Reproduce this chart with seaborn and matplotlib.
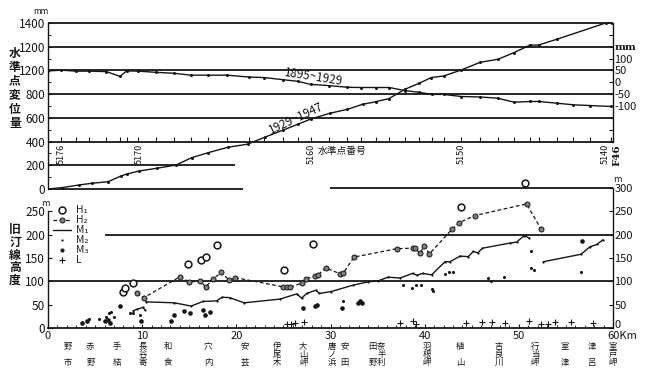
import numpy as np
import pandas as pd
import matplotlib
matplotlib.use("Agg")
import matplotlib.pyplot as plt
import matplotlib.transforms as mtransforms
from matplotlib.lines import Line2D
import seaborn as sns

# ---------------- data: upper panel (benchmark displacement, mm) ----------------
km_1929_1947 = [0.0, 1.45, 3.3, 4.65, 6.4, 7.75, 8.4, 9.7, 11.55, 13.6, 15.25, 17.0, 19.1, 21.2,
                23.0, 25.0, 26.6, 27.9, 29.9, 31.8, 33.4, 34.8, 36.2, 37.9, 39.4, 40.7, 42.0,
                43.9, 45.9, 47.8, 49.5, 51.2, 52.1, 54.0, 59.3, 59.85]
mm_1929_1947 = [0, 11, 34, 48, 62, 110, 127, 152, 175, 202, 264, 306, 352, 378,
                436, 498, 548, 590, 638, 672, 714, 736, 762, 841, 891, 940, 953,
                1004, 1069, 1094, 1151, 1214, 1214, 1262, 1402, 1398]
km_1895_1929 = [0.0, 1.4, 3.0, 4.35, 6.2, 7.65, 8.35, 9.6, 11.45, 13.4, 15.15, 17.0, 19.05,
                21.35, 22.95, 24.95, 26.55, 27.9, 29.85, 31.8, 33.2, 34.8, 36.25, 37.9, 39.4,
                40.75, 42.0, 43.9, 45.9, 47.75, 49.5, 51.2, 52.1, 54.0, 55.8, 57.55, 59.75]
mm_1895_1929 = [48, 51, 47, 47, 45, 25, 48, 47, 42, 38, 30, 30, 30,
                22, 20, 11, 4, -9, -14, -21, -22, -22, -22, -35, -42,
                -51, -51, -60, -62, -67, -84, -81, -81, -88, -95, -98, -102]
bench_labels = ["5176", "5170", "5160", "5150", "5140"]
bench_label_km = [1.4, 9.65, 27.9, 43.9, 59.2]
left_tick_values = [0, 200, 400, 600, 800, 1000, 1200, 1400]
left_tick_labels = ["0", "200", "400", "600", "800", "1200", "1200", "1400"]
right_tick_values = [-250, -200, -150, -100, -50, 0, 50, 100, 150, 200, 250]

# ---------------- data: lower panel (old shoreline height, m) ----------------
h1_km = [7.93, 8.18, 9.06, 14.9, 16.2, 16.75, 17.9, 25.1, 28.15, 43.9, 50.65]
h1_m = [78, 86, 96, 137, 146, 152, 177, 124, 181, 259, 310]

h2_km = [9.42, 10.19, 14.02, 14.94, 16.19, 16.75, 17.52, 18.4, 19.27, 19.89, 24.99, 25.35,
         25.7, 26.94, 27.4, 28.35, 28.72, 29.47, 31.04, 31.33, 32.5, 37.06, 38.73, 38.97,
         39.5, 39.95, 40.51, 42.93, 43.68, 45.34, 50.83, 52.35]
h2_m = [74, 65, 110, 99, 100, 88, 105, 119, 102, 108, 88, 87,
        87, 96, 105, 112, 114, 129, 116, 117, 152, 170, 171, 171,
        160, 176, 159, 212, 226, 241, 266, 212]

m1_seg1_km = [9.06, 9.42, 10.06, 10.3]
m1_seg1_m = [37, 40, 44, 39]
m1_seg2_km = [10.41, 13.4, 15.21, 16.46, 17.91, 18.48, 19.29, 20.83, 24.64, 26.41, 26.94, 27.47,
              28.46, 28.81, 30.05, 32.42, 34.01, 35.07, 36.1, 37.38, 38.71, 39.19, 39.77, 40.74,
              42.16, 42.69, 43.75, 44.63, 45.16, 45.64, 46.14, 49.06, 49.77, 50.55, 51.08]
m1_seg2_m = [56, 54, 47, 57, 58, 66, 65, 54, 62, 73, 64, 74,
             81, 74, 78, 92, 99, 101, 109, 107, 117, 113, 117, 114,
             142, 142, 154, 153, 164, 161, 171, 182, 184, 198, 193]
m1_seg3_km = [52.6, 56.6, 57.56, 58.27, 58.94]
m1_seg3_m = [142, 158, 174, 179, 189]

m2_km = [4.39, 5.44, 6.19, 6.51, 6.72, 7.03, 8.68, 9.06, 9.77, 31.36, 37.73, 38.62, 39.05,
         39.58, 40.75, 40.92, 42.16, 42.61, 43.04, 46.69, 47.01, 48.39, 51.26, 51.26, 51.63, 56.65]
m2_m = [20, 19, 24, 32, 34, 24, 32, 32, 28, 58, 92, 85, 92,
        92, 83, 80, 116, 119, 119, 108, 101, 110, 164, 129, 124, 119]

m3_km = [3.66, 4.17, 6.05, 6.4, 6.58, 7.65, 9.88, 13.06, 13.4, 14.47, 15.08, 16.49, 16.67,
         17.2, 27.05, 28.35, 28.6, 31.2, 32.89, 33.13, 33.38, 56.67]
m3_m = [10, 14, 14, 17, 11, 48, 16, 14, 28, 36, 32, 39, 28,
        35, 42, 48, 49, 43, 53, 58, 53, 186]

l_km = [25.41, 25.8, 26.18, 27.18, 37.38, 38.76, 39.1, 44.36, 46.12, 47.12, 48.56, 51.11,
        52.35, 53.06, 53.84, 55.54, 57.91]
l_m = [8, 8, 10, 12, 10, 15, 9, 10, 12, 12, 10, 15, 9, 9, 12, 12, 11]

legend_labels = ["H\u2081", "H\u2082", "M\u2081", "M\u2082", "M\u2083", "L"]
x_tick_values = [0, 10, 20, 30, 40, 50, 60]
x_tick_labels = ["0", "10", "20", "30", "40", "50", "60Km"]

place_names = ["野市", "赤野", "手結", "長谷寄", "和食", "穴内", "安芸", "伊尾木", "大山岬", "唐ノ浜",
               "安田", "田野", "奈半利", "羽根岬", "植山", "吉良川", "行当岬", "室津", "津呂", "室戸岬"]
place_km = [2.1, 4.5, 7.3, 10.1, 12.7, 17.0, 20.9, 24.3, 27.1, 30.2,
            31.5, 34.5, 35.4, 40.2, 43.8, 47.9, 51.7, 54.9, 57.8, 60.0]

# ---------------- style ----------------
sns.set_theme(style="white")
plt.rcParams["font.family"] = ["Liberation Sans Narrow", "Noto Sans CJK JP", "DejaVu Sans"]
plt.rcParams["axes.linewidth"] = 1.0
INK = "#161616"
CJK = ["Noto Sans CJK JP", "DejaVu Sans"]

W, H = 650, 378
fig = plt.figure(figsize=(W / 100, H / 100), dpi=100)
fig.patch.set_facecolor("white")


def fx(px):
    return px / W


def fy(py):
    return (H - py) / H


X0, X1 = 48, 613
ax_t = fig.add_axes([fx(X0), fy(189), (X1 - X0) / W, (189 - 23) / H])
ax_b = fig.add_axes([fx(X0), fy(328), (X1 - X0) / W, (328 - 188) / H])
for a in (ax_t, ax_b):
    a.set_facecolor("none")
    a.set_xlim(0, 60)

# ======== upper panel ========
ax_t.set_ylim(0, 1400)
for s in ("top", "right", "bottom"):
    ax_t.spines[s].set_visible(False)
ax_t.spines["left"].set_color(INK)
ax_t.spines["left"].set_bounds(0, 1400)

ax_t.hlines([400, 600, 800, 1000, 1200, 1400], 0, 60, color=INK, lw=1.3, clip_on=False, zorder=1)
ax_t.hlines(200, 0, 19.9, color=INK, lw=1.3, zorder=1)
ax_t.hlines(0, 0, 20.7, color=INK, lw=1.3, clip_on=False, zorder=1)
# benchmark tick marks on the 400 line
ax_t.plot(km_1895_1929, [400] * len(km_1895_1929), ls="none", marker=2, ms=3.5,
          mew=0.8, color=INK, zorder=2)

ax_t.set_xticks([])
ax_t.set_yticks(left_tick_values)
ax_t.set_yticklabels(left_tick_labels)
ax_t.set_yticks(list(range(100, 1400, 200)), minor=True)
ax_t.tick_params(axis="y", which="major", direction="in", length=3, width=0.8,
                 labelsize=8.5, pad=2, colors=INK, left=True)
ax_t.tick_params(axis="y", which="minor", direction="in", length=2, width=0.7, left=True)

sns.lineplot(x=km_1929_1947, y=mm_1929_1947, ax=ax_t, color=INK, lw=1.0,
             marker="o", markersize=2.2, markeredgewidth=0, estimator=None, sort=False)

axr_t = ax_t.twinx()
axr_t.set_facecolor("none")
axr_t.set_ylim(-450, 250)
for s in ("top", "left", "bottom"):
    axr_t.spines[s].set_visible(False)
axr_t.spines["right"].set_color(INK)
axr_t.spines["right"].set_bounds(-250, 250)
sns.lineplot(x=km_1895_1929, y=mm_1895_1929, ax=axr_t, color=INK, lw=1.0,
             marker="o", markersize=2.2, markeredgewidth=0, estimator=None, sort=False)
axr_t.set_yticks(right_tick_values)
axr_t.set_yticklabels([str(v) if abs(v) <= 100 else "" for v in right_tick_values])
axr_t.tick_params(axis="y", direction="in", length=3, width=0.8, labelsize=8, pad=1,
                  colors=INK, right=True)
for a in (ax_t, axr_t):
    a.set_xlabel("")
    a.set_ylabel("")

for lab, k in zip(bench_labels, bench_label_km):
    ax_t.text(k, 380, lab, rotation=90, ha="center", va="top", fontsize=6.5, color=INK)
ax_t.text(60.45, 380, "F46", rotation=90, ha="center", va="top", fontsize=7.5,
          fontweight="bold", family=["DejaVu Serif"], color=INK, clip_on=False)
ax_t.text(28.6, 318, "水準点番号", ha="left", va="center", fontsize=7, family=CJK, color=INK)
ax_t.text(28.25, 940, "1895~1929", rotation=-9, ha="center", va="center", fontsize=8.5, color=INK)
ax_t.text(26.3, 595, "1929~1947", rotation=25, ha="center", va="center", fontsize=8.5, color=INK)

fig.text(fx(41), fy(12), "mm", ha="center", va="center", fontsize=6, color=INK)
fig.text(fx(626), fy(48), "mm", ha="center", va="center", fontsize=7.5,
         fontweight="bold", family=["DejaVu Serif"], color=INK)
fig.text(fx(15), fy(88), "\n".join("水準点変位量"), ha="center", va="center",
         fontsize=8.5, fontweight="bold", linespacing=1.1, family=CJK, color=INK)

# ======== lower panel ========
ax_b.set_ylim(0, 300)
for s in ("top", "right"):
    ax_b.spines[s].set_visible(False)
ax_b.spines["left"].set_bounds(0, 250)
ax_b.spines["left"].set_color(INK)
ax_b.spines["bottom"].set_color(INK)
ax_b.spines["bottom"].set_linewidth(1.3)

ax_b.hlines(300, 29.9, 60, color=INK, lw=1.3, clip_on=False, zorder=1)
ax_b.hlines(200, 6.05, 60, color=INK, lw=1.3, zorder=1)
ax_b.hlines(100, 0, 60, color=INK, lw=1.3, zorder=1)

ax_b.set_xticks(x_tick_values)
ax_b.set_xticklabels(x_tick_labels)
ax_b.set_xticks(list(range(0, 61)), minor=True)
ax_b.tick_params(axis="x", which="major", direction="in", length=3, width=0.8,
                 labelsize=8, pad=2.5, colors=INK, bottom=True)
ax_b.tick_params(axis="x", which="minor", direction="in", length=2, width=0.7, bottom=True)
last = ax_b.get_xticklabels()[-1]
last.set_horizontalalignment("left")
last.set_transform(last.get_transform() + mtransforms.ScaledTranslation(-4 / 72, 0, fig.dpi_scale_trans))
ax_b.set_yticks([0, 50, 100, 150, 200, 250])
ax_b.tick_params(axis="y", direction="in", length=3, width=0.8, labelsize=8.5, pad=2,
                 colors=INK, left=True)

# M1 (solid segments)
m1_df = pd.DataFrame({
    "km": m1_seg1_km + m1_seg2_km + m1_seg3_km,
    "m": m1_seg1_m + m1_seg2_m + m1_seg3_m,
    "seg": [1] * len(m1_seg1_km) + [2] * len(m1_seg2_km) + [3] * len(m1_seg3_km),
})
sns.lineplot(data=m1_df, x="km", y="m", units="seg", estimator=None, sort=False, ax=ax_b,
             color=INK, lw=1.0, marker="o", markersize=1.6, markeredgewidth=0)
# H2 (dashed)
sns.lineplot(x=h2_km, y=h2_m, ax=ax_b, color=INK, lw=0.9, linestyle=(0, (3, 2)),
             marker="o", markersize=3.6, markerfacecolor="#808080", markeredgecolor=INK,
             markeredgewidth=0.7, estimator=None, sort=False)
# H1
sns.scatterplot(x=h1_km, y=h1_m, ax=ax_b, marker="o", s=24, color="white",
                edgecolor=INK, linewidth=1.1, clip_on=False, zorder=5)
# M2, M3, L
sns.scatterplot(x=m2_km, y=m2_m, ax=ax_b, marker="o", s=5, color=INK, linewidth=0, zorder=4)
sns.scatterplot(x=m3_km, y=m3_m, ax=ax_b, marker="o", s=11, color=INK, linewidth=0, zorder=4)
sns.scatterplot(x=l_km, y=l_m, ax=ax_b, marker="+", s=18, color=INK, linewidth=0.8, zorder=4)
ax_b.set_xlabel("")
ax_b.set_ylabel("")

axr_b = ax_b.twinx()
axr_b.set_facecolor("none")
axr_b.set_ylim(0, 300)
for s in ("top", "left", "bottom"):
    axr_b.spines[s].set_visible(False)
axr_b.spines["right"].set_color(INK)
axr_b.spines["right"].set_bounds(0, 300)
axr_b.set_yticks([0, 50, 100, 150, 200, 250, 300])
axr_b.tick_params(axis="y", direction="in", length=3, width=0.8, labelsize=8, pad=1,
                  colors=INK, right=True)
zero_lbl = axr_b.get_yticklabels()[0]
zero_lbl.set_transform(zero_lbl.get_transform() + mtransforms.ScaledTranslation(0, 3 / 72, fig.dpi_scale_trans))

fig.text(fx(45), fy(203), "m", ha="center", va="center", fontsize=6.5, color=INK)
fig.text(fx(617), fy(180), "m", ha="center", va="center", fontsize=6.5, color=INK)
fig.text(fx(15), fy(255), "\n".join("旧汀線高度"), ha="center", va="center",
         fontsize=8.5, fontweight="bold", linespacing=0.97, family=CJK, color=INK)

handles = [
    Line2D([], [], ls="none", marker="o", mfc="white", mec=INK, ms=5, mew=1.1),
    Line2D([], [], ls=(0, (3, 2)), color=INK, lw=0.9, marker="o", mfc="#808080", mec=INK, ms=3.6, mew=0.7),
    Line2D([], [], ls="-", color=INK, lw=1.0),
    Line2D([], [], ls="none", marker="o", color=INK, ms=1.6, mew=0),
    Line2D([], [], ls="none", marker="o", color=INK, ms=3.0, mew=0),
    Line2D([], [], ls="none", marker="+", color=INK, ms=4.5, mew=0.8),
]
fig.legend(handles, legend_labels, loc="upper left", bbox_to_anchor=(fx(53), fy(205)),
           frameon=False, fontsize=7.5, handlelength=1.7, handletextpad=0.5,
           labelspacing=0.0, borderpad=0, borderaxespad=0, handleheight=0.5)

# place names along the coast (vertical writing)
trans = mtransforms.blended_transform_factory(ax_b.transData, fig.transFigure)
rows_py = [346, 354, 362.5]
for name, k in zip(place_names, place_km):
    idx = [0, 2] if len(name) == 2 else [0, 1, 2]
    for ch, r in zip(name, idx):
        ax_b.text(k, fy(rows_py[r]), ch, transform=trans, ha="center", va="center",
                  fontsize=6, family=CJK, color=INK, clip_on=False)

fig.savefig("out.png", dpi=100, facecolor="white")
